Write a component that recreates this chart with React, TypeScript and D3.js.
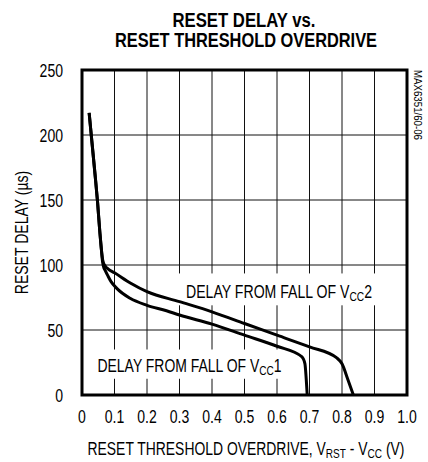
import React from "react";
import * as d3 from "d3";

const W = 428;
const H = 462;

const xTicks = [0, 0.1, 0.2, 0.3, 0.4, 0.5, 0.6, 0.7, 0.8, 0.9, 1.0];
const xTickLabels = ["0", "0.1", "0.2", "0.3", "0.4", "0.5", "0.6", "0.7", "0.8", "0.9", "1.0"];
const yTicks = [0, 50, 100, 150, 200, 250];
const yTickLabels = ["0", "50", "100", "150", "200", "250"];

// shared steep section (both curves)
const steepX = [0.022, 0.03, 0.04, 0.048, 0.055, 0.06];
const steepY = [217, 196, 170, 148, 125, 111];

// delay from fall of VCC2 (upper curve)
const vcc2X = [0.0635, 0.067, 0.072, 0.08, 0.1, 0.15, 0.2, 0.3, 0.4, 0.5, 0.6, 0.7, 0.784, 0.8, 0.818, 0.835];
const vcc2Y = [104, 101, 99, 97, 94, 86, 79.5, 71.8, 64, 55, 46, 37, 28.5, 24, 12, 0];

// delay from fall of VCC1 (lower curve)
const vcc1X = [0.063, 0.066, 0.072, 0.08, 0.09, 0.107, 0.148, 0.2, 0.26, 0.3, 0.4, 0.5, 0.6, 0.676, 0.686, 0.69, 0.693];
const vcc1Y = [103, 99, 95.5, 91.5, 87, 82, 74.4, 69, 64.8, 61.5, 54.5, 46, 37.5, 29.5, 24, 12, 0];

const FONT = "'Liberation Sans', Arial, Helvetica, sans-serif";
const SX = 0.78;

function NText(props: { x: number; y: number; anchor?: string; size?: number; rotate?: number; children: React.ReactNode }) {
  const { x, y, anchor = "start", size = 18, rotate = 0, children } = props;
  return (
    <text
      transform={`translate(${x},${y}) rotate(${rotate}) scale(${SX},1)`}
      textAnchor={anchor}
      fontSize={size}
    >
      {children}
    </text>
  );
}

export default function App() {
  const left = 82, right = 407, top = 70, bottom = 395;
  const x = d3.scaleLinear().domain([0, 1]).range([left, right]);
  const y = d3.scaleLinear().domain([0, 250]).range([bottom, top]);

  const line = d3
    .line<[number, number]>()
    .x((d) => x(d[0]))
    .y((d) => y(d[1]))
    .curve(d3.curveMonotoneX);

  const steep: [number, number][] = steepX.map((v, i) => [v, steepY[i]]);
  const c2: [number, number][] = steep.concat(vcc2X.map((v, i) => [v, vcc2Y[i]] as [number, number]));
  const c1: [number, number][] = steep.concat(vcc1X.map((v, i) => [v, vcc1Y[i]] as [number, number]));

  return (
    <svg width={W} height={H} style={{ position: "absolute", left: 0, top: 0, background: "#fff" }} fontFamily={FONT}>
      <rect x={0} y={0} width={W} height={H} fill="#fff" />
      {/* title */}
      <text x={244} y={27} textAnchor="middle" fontWeight="bold" fontSize={19.5} textLength={143} lengthAdjust="spacingAndGlyphs">
        RESET DELAY vs.
      </text>
      <text x={246} y={47} textAnchor="middle" fontWeight="bold" fontSize={19.5} textLength={262} lengthAdjust="spacingAndGlyphs">
        RESET THRESHOLD OVERDRIVE
      </text>

      {/* grid */}
      {xTicks.slice(1, -1).map((t) => (
        <line key={"gx" + t} x1={x(t)} x2={x(t)} y1={top} y2={bottom} stroke="#111" strokeWidth={1} />
      ))}
      {yTicks.slice(1, -1).map((t) => (
        <line key={"gy" + t} x1={left} x2={right} y1={y(t)} y2={y(t)} stroke="#111" strokeWidth={1} />
      ))}

      {/* label background boxes */}
      <rect x={x(0.295)} y={y(93.5)} width={x(0.915) - x(0.295)} height={y(69) - y(93.5)} fill="#fff" />
      <rect x={x(0.025)} y={y(35)} width={x(0.635) - x(0.025)} height={y(12.5) - y(35)} fill="#fff" />

      {/* curves */}
      <path d={line(c2) || ""} fill="none" stroke="#000" strokeWidth={3} strokeLinejoin="round" />
      <path d={line(c1) || ""} fill="none" stroke="#000" strokeWidth={3} strokeLinejoin="round" />

      {/* frame */}
      <rect x={left} y={top} width={right - left} height={bottom - top} fill="none" stroke="#000" strokeWidth={3} />

      {/* labels */}
      <text x={186} y={297.5} fontSize={18} textLength={186} lengthAdjust="spacingAndGlyphs">
        DELAY FROM FALL OF V<tspan fontSize={13} dy={3}>CC</tspan><tspan dy={-3}>2</tspan>
      </text>
      <text x={97.5} y={371.5} fontSize={18} textLength={184} lengthAdjust="spacingAndGlyphs">
        DELAY FROM FALL OF V<tspan fontSize={13} dy={3}>CC</tspan><tspan dy={-3}>1</tspan>
      </text>

      {/* y ticks */}
      {yTicks.map((t, i) => (
        <NText key={"yt" + t} x={63} y={y(t) + 6.5} anchor="end">
          {yTickLabels[i]}
        </NText>
      ))}
      {/* x ticks */}
      {xTicks.map((t, i) => (
        <NText key={"xt" + t} x={x(t)} y={423} anchor="middle">
          {xTickLabels[i]}
        </NText>
      ))}

      {/* axis titles */}
      <text x={246} y={455} textAnchor="middle" fontSize={18} textLength={317} lengthAdjust="spacingAndGlyphs">
        RESET THRESHOLD OVERDRIVE, V<tspan fontSize={13} dy={3}>RST</tspan><tspan dy={-3}> - V</tspan>
        <tspan fontSize={13} dy={3}>CC</tspan><tspan dy={-3}> (V)</tspan>
      </text>
      <NText x={28} y={(top + bottom) / 2} anchor="middle" rotate={-90}>
        RESET DELAY (µs)
      </NText>
      <text transform={`translate(414, 70) rotate(90)`} textAnchor="start" fontSize={10} textLength={70} lengthAdjust="spacingAndGlyphs">
        MAX6351/60-06
      </text>
    </svg>
  );
}
